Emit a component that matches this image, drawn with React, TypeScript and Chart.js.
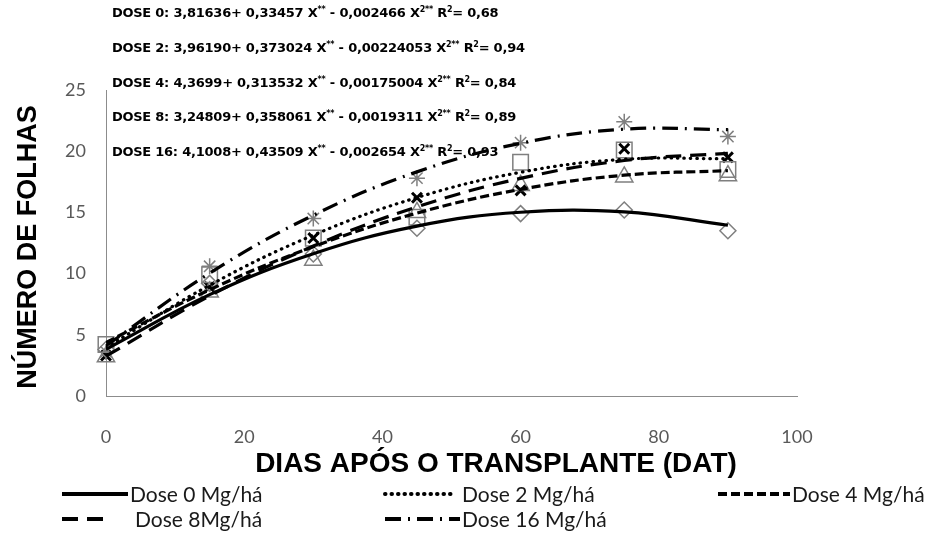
import React, { useEffect, useRef } from "react";
import { Chart, registerables } from "chart.js";

Chart.register(...registerables);

// ---- data ----
const days = [0, 15, 30, 45, 60, 75, 90];

// observed points (markers)
const dose0Obs = [3.8, 9.2, 11.6, 13.7, 14.9, 15.2, 13.5];
const dose2Obs = [4.2, 9.9, 12.9, 14.6, 19.1, 20.1, 18.5];
const dose4Obs = [3.2, 8.5, 11.1, 15.0, 17.2, 17.9, 18.0];
const dose8Obs = [3.3, 8.9, 12.9, 16.2, 16.8, 20.2, 19.5];
const dose16Obs = [3.6, 10.6, 14.5, 17.8, 20.7, 22.4, 21.2];

// fitted trend lines, values read at each sampling day
const dose0Fit = [3.82, 8.28, 11.63, 13.88, 15.01, 15.04, 13.95];
const dose2Fit = [3.96, 9.05, 13.14, 16.21, 18.28, 19.34, 19.39];
const dose4Fit = [4.37, 8.68, 12.2, 14.94, 16.88, 18.04, 18.41];
const dose8Fit = [3.25, 8.18, 12.25, 15.45, 17.78, 19.24, 19.83];
const dose16Fit = [4.1, 10.03, 14.77, 18.31, 20.65, 21.8, 21.76];

const seriesLabels = [
  "Dose 0 Mg/há",
  "Dose 2 Mg/há",
  "Dose 4 Mg/há",
  "Dose 8Mg/há",
  "Dose 16 Mg/há",
];

const equations = [
  "DOSE 0: 3,81636+ 0,33457 X** - 0,002466 X²** R²= 0,68",
  "DOSE 2: 3,96190+ 0,373024 X** - 0,00224053 X²** R²= 0,94",
  "DOSE 4: 4,3699+ 0,313532 X** - 0,00175004 X²** R²= 0,84",
  "DOSE 8: 3,24809+ 0,358061 X** - 0,0019311 X²** R²= 0,89",
  "DOSE 16: 4,1008+ 0,43509 X** - 0,002654 X²** R²= 0,93",
];

const xTitle = "DIAS APÓS O TRANSPLANTE (DAT)";
const yTitle = "NÚMERO DE FOLHAS";

const xMin = 0, xMax = 100, xStep = 20;
const yMin = 0, yMax = 25, yStep = 5;

// ---- styles ----
const dashes: number[][] = [[], [0.5, 6], [9, 4], [16, 9], [16, 7, 2, 7]];
const caps: CanvasLineCap[] = ["butt", "round", "butt", "butt", "butt"];
const markerStyles = ["rectRot", "rect", "triangle", "crossRot", "star"];
const markerRadius = [8, 11, 10, 7, 8];
const markerColor = ["#7f7f7f", "#7f7f7f", "#7f7f7f", "#000000", "#7f7f7f"];
const markerWidth = [1.5, 1.5, 1.5, 3, 1.5];

const obsAll = [dose0Obs, dose2Obs, dose4Obs, dose8Obs, dose16Obs];
const fitAll = [dose0Fit, dose2Fit, dose4Fit, dose8Fit, dose16Fit];

function drawRich(ctx: CanvasRenderingContext2D, text: string, x: number, y: number) {
  const mainFont = 'bold 13px "DejaVu Sans", sans-serif';
  const supFont = 'bold 8px "DejaVu Sans", sans-serif';
  let cx = x;
  for (const ch of text) {
    const sup = ch === "*" || ch === "²";
    const c = ch === "²" ? "2" : ch;
    ctx.font = sup ? supFont : mainFont;
    ctx.fillText(c, cx, sup ? y - 4 : y);
    cx += ctx.measureText(c).width * (sup ? 0.95 : 0.97);
  }
}

const overlayPlugin = {
  id: "overlay",
  afterDraw(chart: any) {
    const ctx: CanvasRenderingContext2D = chart.ctx;
    const area = chart.chartArea;
    ctx.save();
    // equations
    ctx.fillStyle = "#000";
    ctx.textBaseline = "middle";
    ctx.textAlign = "left";
    const eqY = [14, 49, 84, 118, 153];
    equations.forEach((t, i) => drawRich(ctx, t, 112, eqY[i]));

    // axis titles
    ctx.font = 'bold 28px "Liberation Sans", Arial, sans-serif';
    ctx.textAlign = "center";
    ctx.fillText(xTitle, 496, 464);
    ctx.save();
    ctx.translate(29, (area.top + area.bottom) / 2 + 4);
    ctx.rotate(-Math.PI / 2);
    ctx.font = 'bold 27px "Liberation Sans", Arial, sans-serif';
    ctx.fillText(yTitle, 0, 0);
    ctx.restore();

    // legend
    const pos = [
      { x: 62, y: 494, len: 66, tx: 130 },
      { x: 385, y: 494, len: 70, tx: 462 },
      { x: 718, y: 494, len: 72, tx: 792 },
      { x: 62, y: 519, len: 44, tx: 135 },
      { x: 385, y: 519, len: 75, tx: 462 },
    ];
    ctx.textAlign = "left";
    ctx.font = '21px "Lato", sans-serif';
    seriesLabels.forEach((lab, i) => {
      const p = pos[i];
      ctx.save();
      ctx.strokeStyle = "#000";
      ctx.lineWidth = 4;
      ctx.lineCap = caps[i];
      ctx.setLineDash(dashes[i]);
      ctx.beginPath();
      ctx.moveTo(p.x, p.y);
      ctx.lineTo(p.x + p.len, p.y);
      ctx.stroke();
      ctx.restore();
      ctx.fillStyle = "#1a1a1a";
      ctx.fillText(lab, p.tx, p.y + 1);
    });
    ctx.restore();
  },
};

export default function App() {
  const ref = useRef<HTMLCanvasElement | null>(null);
  useEffect(() => {
    document.body.style.margin = "0";
    const canvas = ref.current;
    if (!canvas) return;
    const datasets: any[] = [];
    fitAll.forEach((fit, i) => {
      datasets.push({
        type: "line",
        label: seriesLabels[i],
        data: days.map((d, j) => ({ x: d, y: fit[j] })),
        borderColor: "#000",
        borderWidth: 3.2,
        borderDash: dashes[i],
        borderCapStyle: caps[i],
        tension: 0.4,
        pointRadius: 0,
        fill: false,
        order: 0,
      });
    });
    obsAll.forEach((obs, i) => {
      datasets.push({
        type: "scatter",
        label: seriesLabels[i] + " obs",
        data: days.map((d, j) => ({ x: d, y: obs[j] })),
        showLine: false,
        pointStyle: markerStyles[i],
        pointRadius: markerRadius[i],
        pointBorderColor: markerColor[i],
        pointBackgroundColor: "rgba(0,0,0,0)",
        pointBorderWidth: markerWidth[i],
        clip: false,
        order: 1,
      });
    });
    const tickFont = { family: '"Lato", sans-serif', size: 18 };
    const chart = new Chart(canvas, {
      type: "scatter",
      data: { datasets },
      options: {
        animation: false,
        responsive: false,
        layout: { padding: { top: 90, right: 133, left: 0, bottom: 0 } },
        plugins: { legend: { display: false }, tooltip: { enabled: false } },
        scales: {
          x: {
            type: "linear",
            min: xMin,
            max: xMax,
            ticks: { stepSize: xStep, padding: 30, color: "#595959", font: tickFont },
            grid: { display: false, drawTicks: false },
            border: { display: true, color: "#8c8c8c", width: 1 },
            afterFit: (s: any) => {
              s.height = 137;
            },
          },
          y: {
            type: "linear",
            min: yMin,
            max: yMax,
            ticks: { stepSize: yStep, padding: 20, color: "#595959", font: tickFont },
            grid: { display: false, drawTicks: false },
            border: { display: true, color: "#8c8c8c", width: 1 },
            afterFit: (s: any) => {
              s.width = 106;
            },
          },
        },
      } as any,
      plugins: [overlayPlugin],
    });
    return () => chart.destroy();
  }, []);
  return (
    <div style={{ width: 930, height: 533, background: "#fff" }}>
      <canvas ref={ref} width={930} height={533} />
    </div>
  );
}
